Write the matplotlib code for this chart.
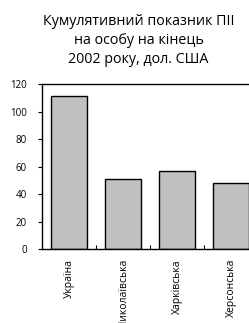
import matplotlib.pyplot as plt
from matplotlib.ticker import FixedLocator

# Data
regions = ["Україна", "Миколаївська", "Харківська", "Херсонська"]
fdi_per_capita = [111, 51, 57, 48]
y_ticks = [0, 20, 40, 60, 80, 100, 120]

plt.rcParams['font.family'] = ['Open Sans', 'DejaVu Sans']

fig = plt.figure(figsize=(2.49, 3.23), dpi=100)
# axes extends past the right edge, like the cropped original
ax = fig.add_axes([42 / 249, (323 - 249.2) / 323, 216 / 249, (249.2 - 84) / 323])

x = [i + 0.5 for i in range(len(regions))]
ax.bar(x, fdi_per_capita, width=0.67, color="#c0c0c0", edgecolor="black", linewidth=1.0)

ax.set_xlim(0, len(regions))
ax.set_ylim(0, 120)
ax.set_yticks(y_ticks)
ax.tick_params(axis="y", direction="out", length=3, width=0.8, labelsize=7, pad=8)

ax.set_xticks(x)
ax.set_xticklabels(regions, rotation=90, fontsize=7.5, va="top")
ax.tick_params(axis="x", which="major", length=0, pad=7)
ax.xaxis.set_minor_locator(FixedLocator(range(1, len(regions))))
ax.tick_params(axis="x", which="minor", direction="in", length=3, width=0.8)

for s in ax.spines.values():
    s.set_linewidth(1.0)

fig.text(138.5 / 249, 1 - 40.5 / 323, "Кумулятивний показник ПІІ\nна особу на кінець\n2002 року, дол. США",
         ha="center", va="center", fontsize=10.3, linespacing=1.4)

fig.savefig("out.png", dpi=100)
